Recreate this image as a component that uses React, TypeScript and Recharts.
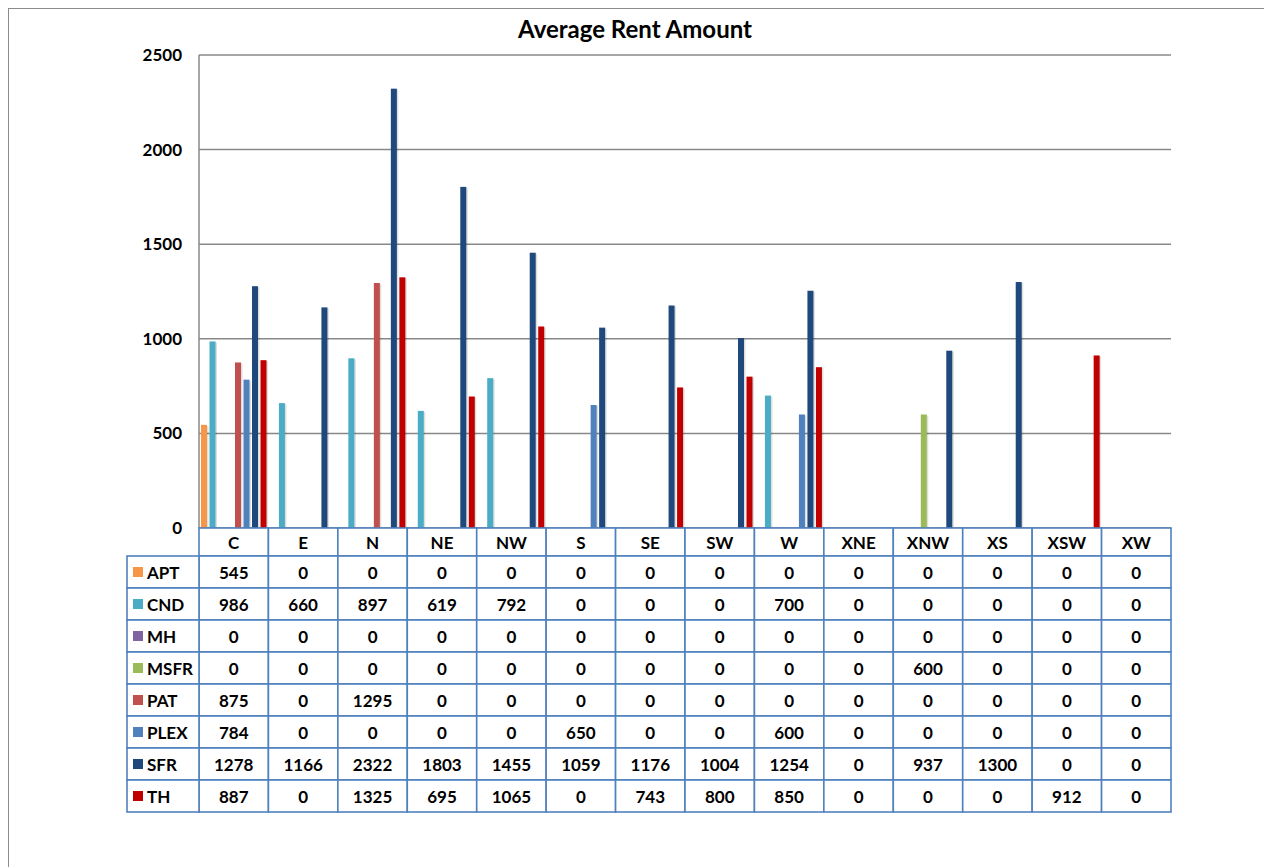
import { BarChart, Bar, XAxis, YAxis, CartesianGrid } from 'recharts'

const categories = ['C', 'E', 'N', 'NE', 'NW', 'S', 'SE', 'SW', 'W', 'XNE', 'XNW', 'XS', 'XSW', 'XW']

const aptValues = [545, 0, 0, 0, 0, 0, 0, 0, 0, 0, 0, 0, 0, 0]
const cndValues = [986, 660, 897, 619, 792, 0, 0, 0, 700, 0, 0, 0, 0, 0]
const mhValues = [0, 0, 0, 0, 0, 0, 0, 0, 0, 0, 0, 0, 0, 0]
const msfrValues = [0, 0, 0, 0, 0, 0, 0, 0, 0, 0, 600, 0, 0, 0]
const patValues = [875, 0, 1295, 0, 0, 0, 0, 0, 0, 0, 0, 0, 0, 0]
const plexValues = [784, 0, 0, 0, 0, 650, 0, 0, 600, 0, 0, 0, 0, 0]
const sfrValues = [1278, 1166, 2322, 1803, 1455, 1059, 1176, 1004, 1254, 0, 937, 1300, 0, 0]
const thValues = [887, 0, 1325, 695, 1065, 0, 743, 800, 850, 0, 0, 0, 912, 0]

const yTicks = [0, 500, 1000, 1500, 2000, 2500]

const series = [
  { key: 'APT', values: aptValues, color: '#F79646' },
  { key: 'CND', values: cndValues, color: '#4BACC6' },
  { key: 'MH', values: mhValues, color: '#8064A2' },
  { key: 'MSFR', values: msfrValues, color: '#9BBB59' },
  { key: 'PAT', values: patValues, color: '#C0504D' },
  { key: 'PLEX', values: plexValues, color: '#4F81BD' },
  { key: 'SFR', values: sfrValues, color: '#1F497D' },
  { key: 'TH', values: thValues, color: '#C00000' }
]

const chartData = categories.map((cat, i) => {
  const row: Record<string, string | number> = { name: cat }
  series.forEach(s => { row[s.key] = s.values[i] })
  return row
})

const CHART_W = 1263
const CHART_H = 858
const Y_AXIS_W = 190
const MARGIN = { top: 46, right: 101, bottom: 55, left: 0 }
const PLOT_W = CHART_W - Y_AXIS_W - MARGIN.left - MARGIN.right
const COL_W = PLOT_W / categories.length
const HEAD_H = 28
const ROW_H = 32
const LEGEND_W = 72
const TABLE_H = HEAD_H + ROW_H * series.length
const BORDER = '#4F81BD'
const FONT = 'Lato, "Open Sans", sans-serif'

const ShadowBar = (props: any) => {
  const { x, y, width, height, fill } = props
  if (!height || height <= 0) return null
  return (
    <g>
      <rect x={x + 1.5} y={y + 1} width={width} height={height - 1} fill="#000" opacity={0.13} />
      <rect x={x} y={y} width={width} height={height} fill={fill} />
    </g>
  )
}

// one column of the data table under each category
const TableTick = (props: any) => {
  const { x, y, payload, index } = props
  const left = x - COL_W / 2
  const textStyle = { fontFamily: FONT, fontWeight: 700, fontSize: 17, fill: '#000' }
  return (
    <g>
      <rect x={left} y={y} width={COL_W} height={HEAD_H} fill="#fff" stroke={BORDER} strokeWidth={1.6} />
      <text x={x} y={y + HEAD_H / 2} textAnchor="middle" dominantBaseline="central" style={textStyle}>
        {payload.value}
      </text>
      {series.map((s, i) => {
        const top = y + HEAD_H + i * ROW_H
        return (
          <g key={s.key}>
            <rect x={left} y={top} width={COL_W} height={ROW_H} fill="#fff" stroke={BORDER} strokeWidth={1.6} />
            <text x={x} y={top + ROW_H / 2} textAnchor="middle" dominantBaseline="central" style={textStyle}>
              {s.values[index]}
            </text>
            {index === 0 && (
              <g>
                <rect x={left - LEGEND_W} y={top} width={LEGEND_W} height={ROW_H} fill="#fff" stroke={BORDER} strokeWidth={1.6} />
                <rect x={left - LEGEND_W + 6} y={top + ROW_H / 2 - 5} width={10} height={10} fill={s.color} />
                <text x={left - LEGEND_W + 20} y={top + ROW_H / 2} dominantBaseline="central" style={textStyle}>
                  {s.key}
                </text>
              </g>
            )}
          </g>
        )
      })}
    </g>
  )
}

export default function App() {
  return (
    <div
      style={{
        position: 'relative',
        width: CHART_W,
        height: CHART_H,
        borderLeft: '1px solid #8c8c8c',
        borderTop: '1px solid #8c8c8c',
        background: '#fff'
      }}
    >
      <div
        style={{
          position: 'absolute',
          left: 0,
          top: 6,
          width: 1252,
          textAlign: 'center',
          fontFamily: FONT,
          fontWeight: 700,
          fontSize: 24,
          lineHeight: '28px',
          color: '#000'
        }}
      >
        Average Rent Amount
      </div>
      <BarChart
        width={CHART_W}
        height={CHART_H}
        data={chartData}
        margin={MARGIN}
        barCategoryGap={2}
        barGap={2.5}
      >
        <CartesianGrid vertical={false} stroke="#888" strokeWidth={1.5} />
        <XAxis
          dataKey="name"
          height={TABLE_H}
          interval={0}
          tickLine={false}
          axisLine={false}
          tickSize={0}
          tickMargin={0}
          tick={<TableTick />}
        />
        <YAxis
          width={Y_AXIS_W}
          domain={[0, 2500]}
          ticks={yTicks}
          tickLine={false}
          tickSize={0}
          tickMargin={17}
          axisLine={{ stroke: '#888', strokeWidth: 1.5 }}
          tick={{ fontFamily: FONT, fontWeight: 700, fontSize: 17, fill: '#000' }}
        />
        {series.map(s => (
          <Bar key={s.key} dataKey={s.key} fill={s.color} shape={<ShadowBar />} isAnimationActive={false} />
        ))}
      </BarChart>
    </div>
  )
}
